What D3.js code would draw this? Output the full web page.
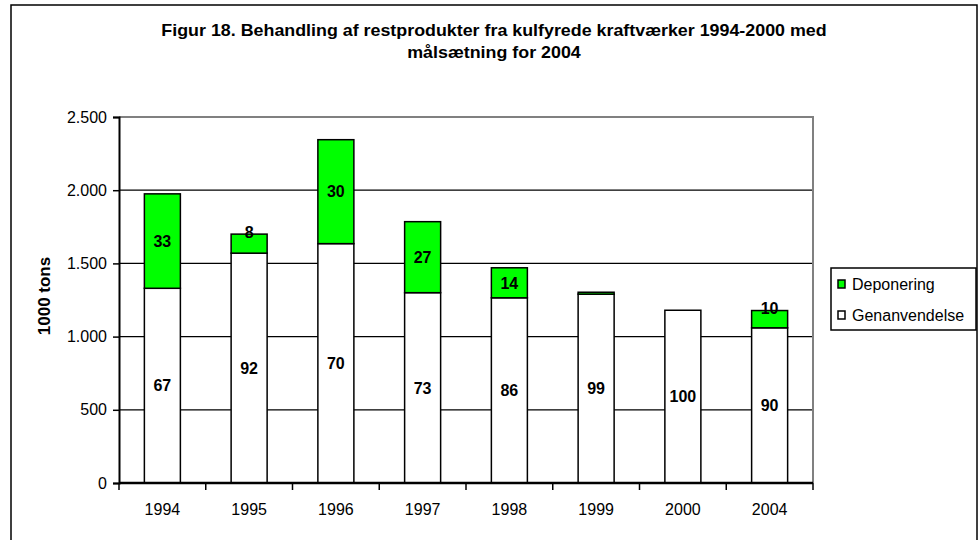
<!DOCTYPE html>
<html>
<head>
<meta charset="utf-8">
<script src="https://cdn.jsdelivr.net/npm/d3@7"></script>
<style>
  body { margin: 0; background: #fff; }
  svg { display: block; font-family: Arial, 'Liberation Sans', sans-serif; }
</style>
</head>
<body>
<div id="chart"></div>
<script>
let years = ['1994', '1995', '1996', '1997', '1998', '1999', '2000', '2004']
let genanvendelse = [1330, 1570, 1635, 1300, 1265, 1290, 1180, 1060]
let deponering = [645, 130, 710, 485, 205, 13, 0, 118]
let genPct = [67, 92, 70, 73, 86, 99, 100, 90]
let depPct = [33, 8, 30, 27, 14, null, null, 10]
let yTicks = [0, 500, 1000, 1500, 2000, 2500]
let titleLines = ['Figur 18. Behandling af restprodukter fra kulfyrede kraftværker 1994-2000 med', 'målsætning for 2004']
let legendItems = [
  { key: 'dep', name: 'Deponering', color: '#00ff00' },
  { key: 'gen', name: 'Genanvendelse', color: '#ffffff' }
]

let width = 980
let height = 540
let plot = { left: 119, right: 813, top: 117, bottom: 483 }

let rows = years.map((y, i) => ({ year: y, gen: genanvendelse[i], dep: deponering[i], genPct: genPct[i], depPct: depPct[i] }))

let locale = d3.formatLocale({ decimal: ',', thousands: '.', grouping: [3], currency: ['', ''] })
let fmt = locale.format(',')

let x = d3.scaleBand()
  .domain(years)
  .range([plot.left, plot.right])
  .paddingInner(0.585)
  .paddingOuter(0.2925)

let y = d3.scaleLinear()
  .domain([0, 2500])
  .range([plot.bottom, plot.top])

let svg = d3.select('#chart').append('svg')
  .attr('width', width)
  .attr('height', height)

// outer chart frame
svg.append('rect')
  .attr('x', 11).attr('y', 5)
  .attr('width', 966).attr('height', 560)
  .attr('fill', '#fff')
  .attr('stroke', '#000')
  .attr('stroke-width', 1.5)

// title (the original is rendered a bit wide, hence the x-stretch)
svg.append('g')
  .selectAll('text')
  .data(titleLines)
  .join('text')
    .attr('transform', (d, i) => `translate(494,${36 + i * 22}) scale(1.116,1)`)
    .attr('text-anchor', 'middle')
    .attr('font-size', 16)
    .attr('font-weight', 'bold')
    .text(d => d)

// gridlines
svg.append('g')
  .selectAll('line')
  .data(yTicks.filter(t => t > 0 && t < 2500))
  .join('line')
    .attr('x1', plot.left).attr('x2', plot.right)
    .attr('y1', d => y(d)).attr('y2', d => y(d))
    .attr('stroke', '#000')
    .attr('stroke-width', 1.2)

// plot area border (top / right)
svg.append('path')
  .attr('d', `M${plot.left},${plot.top}H${plot.right}V${plot.bottom}`)
  .attr('fill', 'none')
  .attr('stroke', '#808080')
  .attr('stroke-width', 2)

let stack = d3.stack().keys(['gen', 'dep'])(rows)
let colors = { gen: '#ffffff', dep: '#00ff00' }

svg.append('g')
  .selectAll('g')
  .data(stack)
  .join('g')
    .attr('fill', d => colors[d.key])
  .selectAll('rect')
  .data(d => d.filter(s => s[1] - s[0] > 0))
  .join('rect')
    .attr('x', d => x(d.data.year))
    .attr('width', x.bandwidth())
    .attr('y', d => y(d[1]))
    .attr('height', d => y(d[0]) - y(d[1]))
    .attr('stroke', '#000')
    .attr('stroke-width', 1.5)

// data labels (percent shares)
let labels = []
stack.forEach(layer => {
  layer.forEach(s => {
    let pct = s.data[layer.key + 'Pct']
    if (pct == null) return
    let top = y(s[1])
    let bot = y(s[0])
    let cy = bot - top < 25 ? top - 2 : (top + bot) / 2
    labels.push({ x: x(s.data.year) + x.bandwidth() / 2, y: cy, text: pct })
  })
})

svg.append('g')
  .selectAll('text')
  .data(labels)
  .join('text')
    .attr('x', d => d.x)
    .attr('y', d => d.y)
    .attr('dy', '0.36em')
    .attr('text-anchor', 'middle')
    .attr('font-size', 16)
    .attr('font-weight', 'bold')
    .text(d => d.text)

// y axis
let yAxis = svg.append('g')
  .attr('transform', `translate(${plot.left},0)`)
  .call(d3.axisLeft(y).tickValues(yTicks).tickFormat(fmt).tickSize(6).tickPadding(6))
yAxis.select('.domain').attr('stroke-width', 2)
yAxis.selectAll('.tick line').attr('stroke-width', 1.5)
yAxis.selectAll('text').attr('font-size', 16).attr('font-family', 'Arial, Liberation Sans, sans-serif')

// x axis, ticks between categories
let xAxis = svg.append('g')
  .attr('transform', `translate(0,${plot.bottom})`)
xAxis.append('line')
  .attr('x1', plot.left).attr('x2', plot.right)
  .attr('stroke', '#000')
  .attr('stroke-width', 2.5)
let bounds = years.map(yr => x(yr) - x.step() * x.paddingInner() / 2).concat([plot.right])
xAxis.selectAll('.tk')
  .data(bounds)
  .join('line')
    .attr('class', 'tk')
    .attr('x1', d => d).attr('x2', d => d)
    .attr('y1', 0).attr('y2', 7)
    .attr('stroke', '#000')
    .attr('stroke-width', 1.5)
xAxis.selectAll('text')
  .data(years)
  .join('text')
    .attr('x', d => x(d) + x.bandwidth() / 2)
    .attr('y', 26)
    .attr('dy', '0.36em')
    .attr('text-anchor', 'middle')
    .attr('font-size', 16)
    .text(d => d)

// y axis title
svg.append('text')
  .attr('transform', 'translate(44,296) rotate(-90)')
  .attr('dy', '0.36em')
  .attr('text-anchor', 'middle')
  .attr('font-size', 17)
  .attr('font-weight', 'bold')
  .text('1000 tons')

// legend
let legend = svg.append('g')
  .attr('transform', 'translate(831,268)')
legend.append('rect')
  .attr('width', 145).attr('height', 62)
  .attr('fill', '#fff')
  .attr('stroke', '#000')
  .attr('stroke-width', 1.5)
let item = legend.selectAll('.item')
  .data(legendItems)
  .join('g')
    .attr('class', 'item')
    .attr('transform', (d, i) => `translate(0,${16 + i * 31})`)
item.append('rect')
  .attr('x', 7).attr('y', -4)
  .attr('width', 7).attr('height', 8)
  .attr('fill', d => d.color)
  .attr('stroke', '#000')
  .attr('stroke-width', 1.5)
item.append('text')
  .attr('x', 21)
  .attr('dy', '0.36em')
  .attr('font-size', 16)
  .text(d => d.name)
</script>
</body>
</html>
